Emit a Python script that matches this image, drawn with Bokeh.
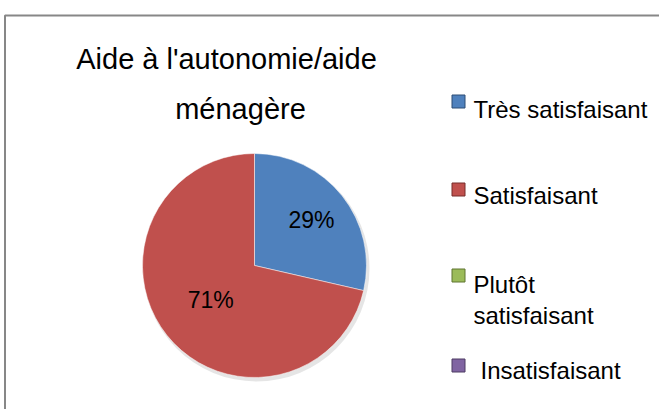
import math
from bokeh.plotting import figure
from bokeh.models import Range1d, ColumnDataSource
from bokeh.core.properties import value
from bokeh.embed import file_html
from bokeh.resources import INLINE

# ---- data ----
categories = ["Très satisfaisant", "Satisfaisant", "Plutôt\nsatisfaisant", "Insatisfaisant"]
shares = [28.6, 71.4, 0.0, 0.0]
colors = ["#4F81BD", "#C0504D", "#9BBB59", "#8064A2"]
title_lines = ["Aide à l'autonomie/aide", "ménagère"]

W, H = 659, 409
FONT = "Liberation Sans"

p = figure(width=W, height=H, output_backend="svg", toolbar_location=None,
           x_range=Range1d(0, W), y_range=Range1d(0, H), min_border=0)
p.axis.visible = False
p.grid.visible = False
p.outline_line_color = None
p.background_fill_color = "white"

def sx(x):  # screen -> data
    return x
def sy(y):
    return H - y

# chart border
p.line([sx(4.5), sx(4.5), sx(700)], [sy(430), sy(15), sy(15)], line_color="#878787", line_width=2)

# pie
cx, cy, r = sx(254), sy(265), 112
total = sum(shares)
starts, ends = [], []
a = math.pi / 2
for s in shares:
    starts.append(a)
    a -= s / total * 2 * math.pi
    ends.append(a)
# shadow
p.wedge(x=cx + 2, y=cy - 3, radius=r + 1, start_angle=0, end_angle=2 * math.pi,
        fill_color="#000000", fill_alpha=0.10, line_color=None)
nz = [i for i, s in enumerate(shares) if s > 0]
src_nz = ColumnDataSource(dict(start=[starts[i] for i in nz], end=[ends[i] for i in nz],
                               color=[colors[i] for i in nz]))
p.wedge(x=cx, y=cy, radius=r, start_angle="start", end_angle="end", direction="clock",
        fill_color="color", line_color="white", line_width=0.5, source=src_nz)

# percentage labels
label_frac = {0: 0.65, 1: 0.50}
lx, ly, lt = [], [], []
for i in nz:
    mid = (starts[i] + ends[i]) / 2
    d = r * label_frac.get(i, 0.6)
    lx.append(cx + d * math.cos(mid))
    ly.append(cy + d * math.sin(mid))
    lt.append(f"{round(shares[i])}%")
p.text(x=lx, y=ly, text=lt, text_font=value(FONT), text_font_size="23px",
       text_align="center", text_baseline="middle", text_color="black")

# title
p.text(x=[sx(226), sx(240)], y=[sy(58), sy(108)], text=title_lines, text_font=value(FONT),
       text_font_size="29px", text_align="center", text_baseline="alphabetic", text_color="black")

# legend
leg_y = [101, 189, 275, 365]
p.scatter(x=[sx(458)] * 4, y=[sy(v) for v in leg_y], marker="square", size=13,
          fill_color=colors, line_color=["#2c4d75", "#772c2a", "#5f7530", "#4d3b62"], line_width=1)
leg_base = [[109], [195], [284, 315], [370]]
leg_text_x = [473, 473, 473, 480]
for i, name in enumerate(categories):
    lines = name.split("\n")
    for j, ln in enumerate(lines):
        p.text(x=[sx(leg_text_x[i])], y=[sy(leg_base[i][j])], text=[ln], text_font=value(FONT),
               text_font_size="24px", text_align="left", text_baseline="alphabetic", text_color="black")

open("out.html", "w").write(file_html(p, INLINE))
